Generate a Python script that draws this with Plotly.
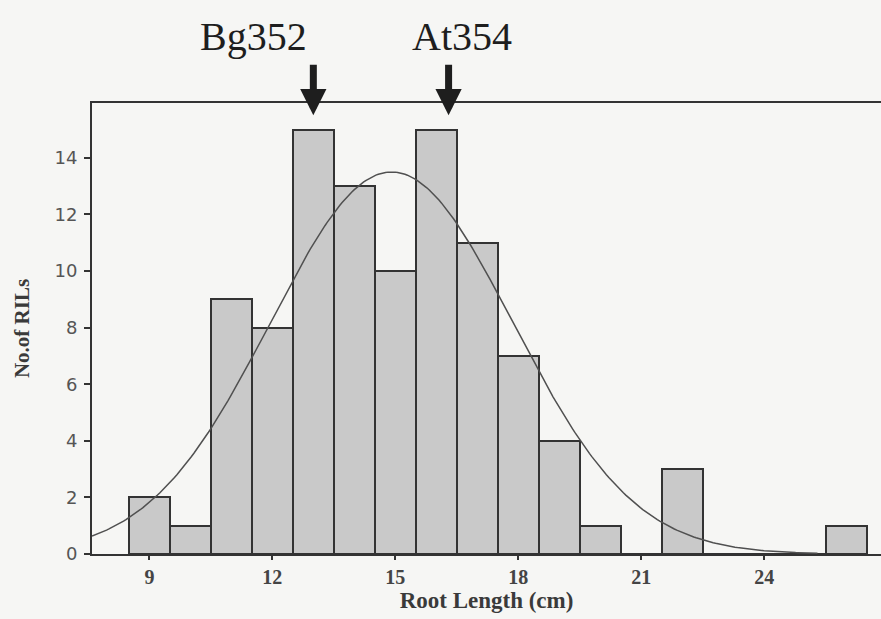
import numpy as np
import plotly.graph_objects as go

# Histogram of root length (cm) across RILs, 1 cm bins centred on integers
root_length_bins = [9, 10, 11, 12, 13, 14, 15, 16, 17, 18, 19, 20, 21, 22, 23, 24, 25, 26]
ril_counts = [2, 1, 9, 8, 15, 13, 10, 15, 11, 7, 4, 1, 0, 3, 0, 0, 0, 1]

# Parental lines marked above the histogram
parent_names = ["Bg352", "At354"]
parent_values = [13.0, 16.3]

x_ticks = [9, 12, 15, 18, 21, 24]
y_ticks = [0, 2, 4, 6, 8, 10, 12, 14]

# Fitted normal curve from the binned counts
bins = np.array(root_length_bins, dtype=float)
counts = np.array(ril_counts, dtype=float)
n_total = counts.sum()
mean = (bins * counts).sum() / n_total
sd = np.sqrt((counts * (bins - mean) ** 2).sum() / (n_total - 1))
curve_x = np.linspace(7.6, 25.3, 300)
curve_y = n_total * 1.0 / (sd * np.sqrt(2 * np.pi)) * np.exp(-0.5 * ((curve_x - mean) / sd) ** 2)

BG = "#f6f6f4"
INK = "#333333"
SERIF = "Liberation Serif, Times New Roman, serif"

fig = go.Figure()
fig.add_trace(go.Bar(
    x=root_length_bins, y=ril_counts, width=1.0,
    marker=dict(color="#c9c9c9", line=dict(color=INK, width=2)),
    showlegend=False, hoverinfo="x+y",
))
fig.add_trace(go.Scatter(
    x=curve_x, y=curve_y, mode="lines",
    line=dict(color="#505050", width=1.5),
    showlegend=False, hoverinfo="skip",
))

# Arrow offsets and label offsets (pixels)
label_shift = [-60, 13]
annotations = []
for name, val, shift in zip(parent_names, parent_values, label_shift):
    annotations.append(dict(
        x=val, xref="x", y=0.973, yref="paper",
        ax=0, ay=-52, axref="pixel", ayref="pixel",
        showarrow=True, arrowhead=2, arrowsize=0.75, arrowwidth=7,
        arrowcolor="#1e1e1e", text="",
    ))
    annotations.append(dict(
        x=val, xref="x", y=1.148, yref="paper", xshift=shift,
        text=name, showarrow=False, xanchor="center", yanchor="middle",
        font=dict(family=SERIF, size=40, color="#1e1e1e"),
    ))

fig.update_layout(
    width=881, height=619,
    margin=dict(l=92, r=0, t=103, b=65),
    paper_bgcolor=BG, plot_bgcolor=BG,
    bargap=0,
    annotations=annotations,
    xaxis=dict(
        range=[7.6, 26.85], tickvals=x_ticks, ticks="outside", ticklen=4,
        tickcolor=INK, tickwidth=1.5,
        showline=True, linecolor=INK, linewidth=2, mirror=True,
        showgrid=False, zeroline=False,
        tickfont=dict(family=SERIF, size=20, color="#444444", weight="bold"),
        title=dict(text="<b>Root Length (cm)</b>", standoff=5,
                   font=dict(family=SERIF, size=23, color="#3a3a3a")),
    ),
    yaxis=dict(
        range=[0, 15.94], tickvals=y_ticks, ticks="outside", ticklen=6,
        tickcolor=INK, tickwidth=1.5, ticklabelstandoff=3,
        showline=True, linecolor=INK, linewidth=2,
        showgrid=False, zeroline=False,
        tickfont=dict(family="DejaVu Sans, Verdana, sans-serif", size=18, color="#555555"),
        title=dict(text="<b>No.of RILs</b>", standoff=19,
                   font=dict(family=SERIF, size=21, color="#3a3a3a")),
    ),
)

fig.write_html("out.html")
